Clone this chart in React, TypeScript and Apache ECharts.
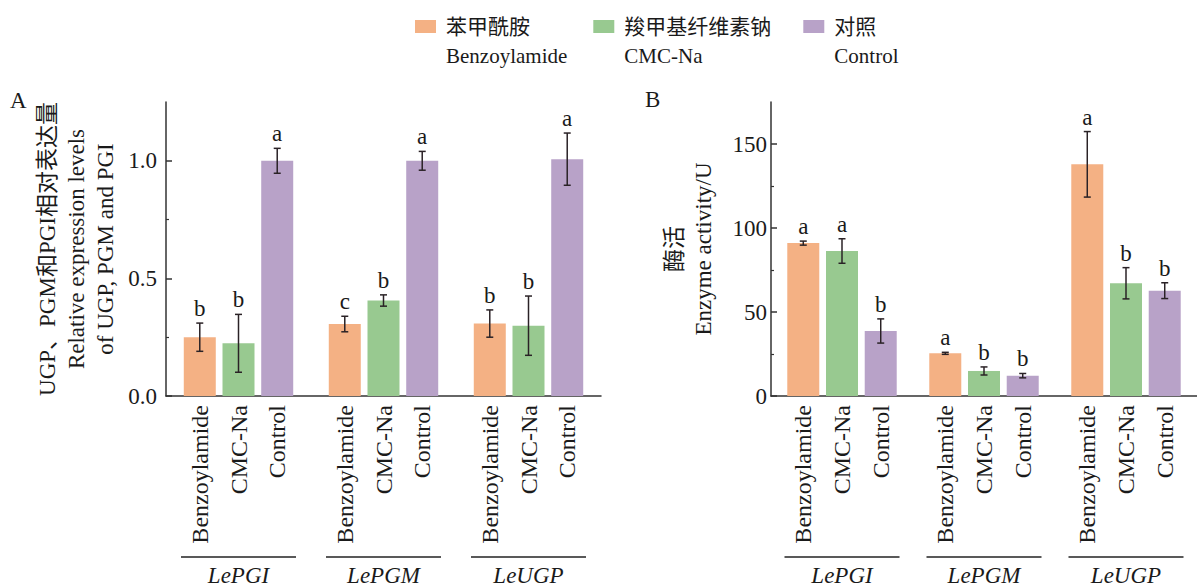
import React, { useEffect, useRef } from 'react';
import * as echarts from 'echarts';

// ---------- data ----------
const genes = ['LePGI', 'LePGM', 'LeUGP'];
const treatmentsCn = ['苯甲酰胺', '羧甲基纤维素钠', '对照'];
const treatmentsEn = ['Benzoylamide', 'CMC-Na', 'Control'];

// Panel A: relative expression levels
const exprBenzoylamide = [0.25, 0.306, 0.308];
const exprCMC = [0.224, 0.406, 0.299];
const exprControl = [1.0, 1.0, 1.007];
const exprErrBenzoylamide = [0.06, 0.033, 0.058];
const exprErrCMC = [0.123, 0.024, 0.126];
const exprErrControl = [0.053, 0.04, 0.111];
const exprLettersBenzoylamide = ['b', 'c', 'b'];
const exprLettersCMC = ['b', 'b', 'b'];
const exprLettersControl = ['a', 'a', 'a'];
const exprTicks = [0, 0.5, 1.0];

// Panel B: enzyme activity
const actBenzoylamide = [91, 25.4, 137.9];
const actCMC = [86.3, 14.9, 67.1];
const actControl = [38.7, 12.1, 62.7];
const actErrBenzoylamide = [1.2, 0.6, 19.5];
const actErrCMC = [7.3, 2.4, 9.3];
const actErrControl = [7.2, 1.3, 4.7];
const actLettersBenzoylamide = ['a', 'a', 'a'];
const actLettersCMC = ['a', 'b', 'b'];
const actLettersControl = ['b', 'b', 'b'];
const actTicks = [0, 50, 100, 150];

// ---------- styles ----------
const FONT = "'Liberation Serif', 'Noto Sans CJK SC', serif";
const TXT = '#1a1a1a';
const AXIS = '#333333';
const COLORS = ['#F4B184', '#98C990', '#B8A2C8'];
const BAR_W = 32;
const GAP = 0.21;
const CAP = 3.5;

function barSeries(p: number, s: number, vals: number[]) {
  return {
    type: 'bar',
    name: treatmentsCn[s],
    xAxisIndex: p,
    yAxisIndex: p,
    data: vals,
    barWidth: BAR_W,
    barGap: GAP * 100 + '%',
    itemStyle: { color: COLORS[s] },
    label: {
      show: true,
      position: 'bottom',
      distance: 9,
      rotate: 90,
      align: 'right',
      verticalAlign: 'middle',
      formatter: () => treatmentsEn[s],
      fontFamily: FONT,
      fontSize: 24,
      color: TXT,
    },
  };
}

function errSeries(p: number, s: number, vals: number[], errs: number[], letters: string[]) {
  return {
    type: 'custom',
    name: treatmentsCn[s],
    xAxisIndex: p,
    yAxisIndex: p,
    z: 5,
    encode: { x: 0, y: 1 },
    data: vals.map((v, i) => [i, v, errs[i]]),
    renderItem: (params: any, api: any) => {
      const ci = api.value(0);
      const v = api.value(1);
      const e = api.value(2);
      const off = (s - 1) * BAR_W * (1 + GAP);
      const x = api.coord([ci, v])[0] + off;
      const yt = api.coord([ci, v + e])[1];
      const yb = api.coord([ci, v - e])[1];
      const st = { stroke: '#2a2226', lineWidth: 1.5 };
      return {
        type: 'group',
        children: [
          { type: 'line', shape: { x1: x, y1: yt, x2: x, y2: yb }, style: st },
          { type: 'line', shape: { x1: x - CAP, y1: yt, x2: x + CAP, y2: yt }, style: st },
          { type: 'line', shape: { x1: x - CAP, y1: yb, x2: x + CAP, y2: yb }, style: st },
          {
            type: 'text',
            style: {
              text: letters[params.dataIndex],
              x,
              y: yt - 3,
              align: 'center',
              verticalAlign: 'bottom',
              fontFamily: FONT,
              fontSize: 23,
              fill: TXT,
            },
          },
        ],
      };
    },
  };
}

function xAxis(p: number) {
  return {
    type: 'category',
    gridIndex: p,
    data: genes,
    axisTick: { show: false },
    axisLine: { lineStyle: { color: AXIS, width: 1.5 } },
    axisLabel: {
      interval: 0,
      margin: 160,
      formatter: (v: string) => `{line| }\n{name|${v}}`,
      rich: {
        line: { width: 115, height: 1.5, lineHeight: 2, backgroundColor: '#222' },
        name: { fontStyle: 'italic', fontSize: 23, lineHeight: 34, fontFamily: FONT, color: TXT },
      },
    },
  };
}

function yAxis(p: number, max: number, interval: number, ticks: number[], fmt: (v: number) => string, name: string, nameGap: number, labelMargin: number) {
  return {
    type: 'value',
    gridIndex: p,
    min: 0,
    max,
    interval,
    splitLine: { show: false },
    axisLine: { show: true, lineStyle: { color: AXIS, width: 1.5 } },
    axisTick: { show: true, inside: true, length: 6, customValues: ticks, lineStyle: { color: AXIS, width: 1.5 } },
    minorTick: { show: true, splitNumber: 2, length: 3, lineStyle: { color: AXIS, width: 1.2 } },
    axisLabel: { customValues: ticks, formatter: fmt, margin: labelMargin, fontFamily: FONT, fontSize: 23, color: TXT },
    name,
    nameLocation: 'middle',
    nameRotate: 90,
    nameGap,
    nameTextStyle: { fontFamily: FONT, fontSize: 23, lineHeight: 29, color: TXT },
  };
}

export default function App() {
  const ref = useRef<HTMLDivElement>(null);
  useEffect(() => {
    const chart = echarts.init(ref.current!, undefined, { renderer: 'svg' });
    const option: any = {
      animation: false,
      backgroundColor: '#ffffff',
      legend: {
        left: 415,
        top: -17,
        padding: 0,
        icon: 'rect',
        itemWidth: 21,
        itemHeight: 13,
        itemGap: 26,
        data: treatmentsCn.map((n, i) => (i === 1 ? { name: n, textStyle: { width: 158 } } : { name: n })),
        formatter: (name: string) => `{pad| }\n{cn|${name}}\n{en|${treatmentsEn[treatmentsCn.indexOf(name)]}}`,
        textStyle: {
          fontFamily: FONT,
          fontSize: 21,
          lineHeight: 29,
          color: TXT,
          rich: {
            pad: { fontFamily: FONT, fontSize: 21, lineHeight: 29 },
            cn: { fontFamily: FONT, fontSize: 21, lineHeight: 29, color: TXT, padding: [0, 0, 0, 5] },
            en: { fontFamily: FONT, fontSize: 21, lineHeight: 29, color: TXT, padding: [0, 0, 0, 5] },
          },
        },
      },
      grid: [
        { left: 166, top: 102, width: 435, height: 294 },
        { left: 771, top: 102, width: 435, height: 294 },
      ],
      xAxis: [xAxis(0), xAxis(1)],
      yAxis: [
        yAxis(0, 1.25, 0.5, exprTicks, (v) => v.toFixed(1),
          'UGP、PGM和PGI相对表达量\nRelative expression levels\nof UGP, PGM and PGI', 46, 9),
        yAxis(1, 175, 50, actTicks, (v) => String(v), '酶活\nEnzyme activity/U', 53, 4),
      ],
      graphic: [
        { type: 'text', left: 10, top: 89, style: { text: 'A', fontFamily: FONT, fontSize: 23, fill: TXT } },
        { type: 'text', left: 645, top: 88, style: { text: 'B', fontFamily: FONT, fontSize: 23, fill: TXT } },
      ],
      series: [
        barSeries(0, 0, exprBenzoylamide),
        barSeries(0, 1, exprCMC),
        barSeries(0, 2, exprControl),
        barSeries(1, 0, actBenzoylamide),
        barSeries(1, 1, actCMC),
        barSeries(1, 2, actControl),
        errSeries(0, 0, exprBenzoylamide, exprErrBenzoylamide, exprLettersBenzoylamide),
        errSeries(0, 1, exprCMC, exprErrCMC, exprLettersCMC),
        errSeries(0, 2, exprControl, exprErrControl, exprLettersControl),
        errSeries(1, 0, actBenzoylamide, actErrBenzoylamide, actLettersBenzoylamide),
        errSeries(1, 1, actCMC, actErrCMC, actLettersCMC),
        errSeries(1, 2, actControl, actErrControl, actLettersControl),
      ],
    };
    chart.setOption(option);
    return () => chart.dispose();
  }, []);
  return (
    <div
      ref={ref}
      style={{ position: 'absolute', left: 0, top: 0, width: 1197, height: 587, background: '#fff' }}
    />
  );
}
